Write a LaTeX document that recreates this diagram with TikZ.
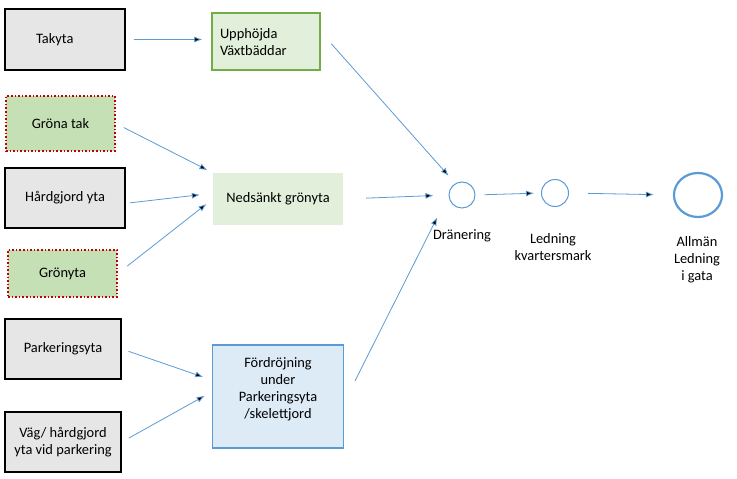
\documentclass[tikz,border=0pt]{standalone}
\usepackage{fontspec}
\setmainfont{Carlito}
\usepackage{tikz}
\usetikzlibrary{positioning, shapes.geometric, arrows.meta}
\usepackage{xcolor}

\definecolor{surfgray}{HTML}{E7E6E6}
\definecolor{palegreen}{HTML}{E2EFDA}
\definecolor{roofgreen}{HTML}{C5E0B4}
\definecolor{bedgreen}{HTML}{70AD47}
\definecolor{dotred}{HTML}{C00000}
\definecolor{paleblue}{HTML}{DDEBF7}
\definecolor{flowblue}{HTML}{5B9BD5}

\begin{document}
\begin{tikzpicture}[x=1pt, y=-1pt,
    font=\fontsize{14.4}{17}\selectfont,
    surface/.style={draw=black, line width=1.6pt, fill=surfgray,
                    align=center, inner sep=0pt},
    greenroof/.style={draw=dotred, line width=1.6pt, dotted, fill=roofgreen,
                      align=center, inner sep=0pt},
    pipe/.style={circle, draw=flowblue, line width=1pt, inner sep=0pt}]

    \useasboundingbox (0,0) rectangle (737,479);

    % Add the surfaces
        \node[surface,
              text width=58pt,
              align=left,
              minimum width=120pt,
              minimum height=61pt] (takyta) at (65,39.5) {Takyta};
        \node[greenroof,
              minimum width=109pt,
              minimum height=55pt] (gronatak) at (60.5,123.5) {Gröna tak};
        \node[surface,
              minimum width=120pt,
              minimum height=60pt] (hardgjord) at (65,198) {Hårdgjord yta};
        \node[greenroof,
              minimum width=109pt,
              minimum height=47pt] (gronyta) at (62.5,273.5) {Grönyta};
        \node[surface,
              minimum width=116pt,
              minimum height=60pt] (parkering) at (63,349) {Parkeringsyta};
        \node[surface,
              minimum width=116pt,
              minimum height=60pt] (vag) at (63,442) {Väg/ hårdgjord\\yta vid parkering};

    % Add the measures
        \node[draw=bedgreen,
              line width=1.5pt,
              fill=palegreen,
              text width=92pt,
              align=left,
              text depth=15pt,
              minimum width=108pt,
              minimum height=57pt] (vaxtbadd) at (266,41.5) {Upphöjda\\Växtbäddar};
        \node[fill=palegreen,
              minimum width=130pt,
              minimum height=52pt] (nedsankt) at (278,199) {Nedsänkt grönyta};
        \node[draw=flowblue,
              line width=1.5pt,
              fill=paleblue,
              align=center,
              text depth=17pt,
              minimum width=131pt,
              minimum height=103pt] (fordrojning) at (278,396.5) {Fördröjning\\under\\Parkeringsyta\\/skelettjord};

    % Add the pipes
        \node[pipe,
              minimum size=26pt] (dranering) at (462,195) {};
        \node[pipe,
              minimum size=27pt] (kvarter) at (555,193) {};
        \node[draw=flowblue,
              line width=2.2pt,
              ellipse,
              minimum width=48pt,
              minimum height=44pt,
              inner sep=0pt] (gata) at (698,195) {};
        \node[align=center] (draneringlbl) at (462,236) {Dränering};
        \node[align=center] (kvarterlbl) at (553,247) {Ledning\\kvartersmark};
        \node[align=center] (gatalbl) at (697,260) {Allmän\\Ledning\\i gata};

 \draw[>={Latex[length=8pt, width=6pt]},
        draw=flowblue,
        line width=0.8pt]
            (takyta.east) edge[->, shorten <=8pt, shorten >=9pt] (vaxtbadd.west |- takyta.east)
            (vaxtbadd.10) edge[->, shorten <=16pt, shorten >=10pt] (dranering.120)
            (gronatak.east) edge[->, shorten <=9pt, shorten >=6pt] (nedsankt.north west)
            (hardgjord.355) edge[->, shorten <=4pt, shorten >=13pt] (nedsankt.175)
            (gronyta.east) edge[->, shorten <=12pt, shorten >=8pt] (nedsankt.west)
            (nedsankt.east) edge[->, shorten <=23pt, shorten >=15pt] (dranering.west)
            (parkering.east) edge[->, shorten <=7pt, shorten >=9pt] (fordrojning.166)
            (vag.east) edge[->, shorten <=8pt, shorten >=8pt] (fordrojning.176)
            (fordrojning.355) edge[->, shorten <=24pt, shorten >=25pt] (dranering.west)
            (dranering.east) edge[->, shorten <=9pt, shorten >=7pt] (kvarter.west)
            (kvarter.east) edge[->, shorten <=19pt, shorten >=19pt] (gata.west)
            ;

    \end{tikzpicture}
\end{document}
